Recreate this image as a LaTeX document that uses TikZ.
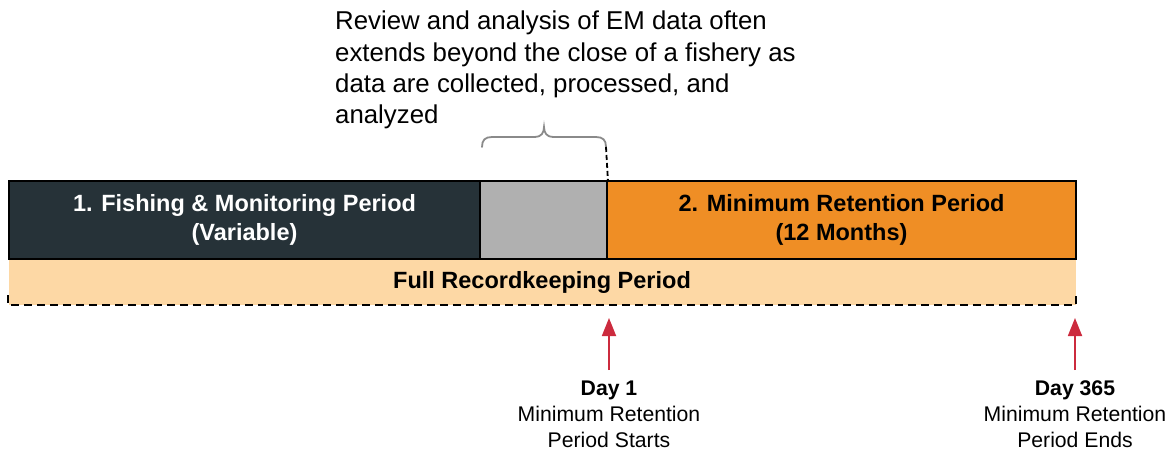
\documentclass[tikz,border=0pt]{standalone}
\usepackage{fontspec}
\setmainfont{Liberation Sans}
\usetikzlibrary{arrows.meta}
\definecolor{darkbox}{HTML}{263238}
\definecolor{graybox}{HTML}{B0B0B0}
\definecolor{orangebox}{HTML}{EF8E25}
\definecolor{peach}{HTML}{FDD8A5}
\definecolor{arrred}{HTML}{CC2B3E}
\definecolor{bracegray}{HTML}{8A8A8A}
\begin{document}
\begin{tikzpicture}[x=1pt,y=-1pt,
  period/.style={draw=black,line width=1.8pt,minimum height=78pt,inner sep=0pt,font=\fontsize{23.5}{29}\selectfont\bfseries,align=center},
  lbl/.style={font=\fontsize{21.2}{26}\selectfont,align=center,inner sep=0pt},
  redarrow/.style={draw=arrred,line width=1.8pt,-{Triangle[length=18pt,width=14pt]}}
]
\useasboundingbox (0,0) rectangle (1167,450);
% band
\fill[peach] (9,259) rectangle (1076,305);
\node[font=\fontsize{23.5}{26}\selectfont\bfseries,inner sep=0pt] (band) at (542,282) {Full Recordkeeping Period};
\draw[line width=1.8pt,dash pattern=on 8pt off 5pt] (8,295) -- (8,305) -- (1076,305) -- (1076,295);
% boxes
\node[period,fill=darkbox,text=white,minimum width=471pt] (fish) at (244.5,220) {1. Fishing \& Monitoring Period\\(Variable)};
\node[period,fill=graybox,minimum width=127pt] (gap) at (543.5,220) {};
\node[period,fill=orangebox,text=black,minimum width=469pt] (ret) at (841.5,220) {2. Minimum Retention Period\\(12 Months)};
% brace
\draw[bracegray,line width=1.8pt,line cap=round] (482,147) .. controls (482,140) and (485,137) .. (492,137) -- (535,137)
  .. controls (541,137) and (544,133) .. (544,127)
  .. controls (544,133) and (547,137) .. (553,137) -- (596,137)
  .. controls (603,137) and (606,140) .. (606,147);
\coordinate (bend) at (606,147);
\draw[line width=1.8pt,dash pattern=on 5pt off 3pt] (bend) -- (gap.north east);
% top text
\node[anchor=west,align=left,inner sep=0pt,font=\fontsize{25.8}{31.2}\selectfont] (note) at (335,70) {Review and analysis of EM data often\\extends beyond the close of a fishery as\\data are collected, processed, and\\analyzed};
% arrows and labels
\node[lbl] (d1) at (609,414) {\textbf{Day 1}\\Minimum Retention\\Period Starts};
\node[lbl] (d365) at (1075,414) {\textbf{Day 365}\\Minimum Retention\\Period Ends};
\coordinate (d1top) at (609,318);
\coordinate (d1tail) at (609,370);
\coordinate (d365top) at (1075,318);
\coordinate (d365tail) at (1075,370);
\draw[redarrow] (d1tail) -- (d1top);
\draw[redarrow] (d365tail) -- (d365top);
\end{tikzpicture}
\end{document}
